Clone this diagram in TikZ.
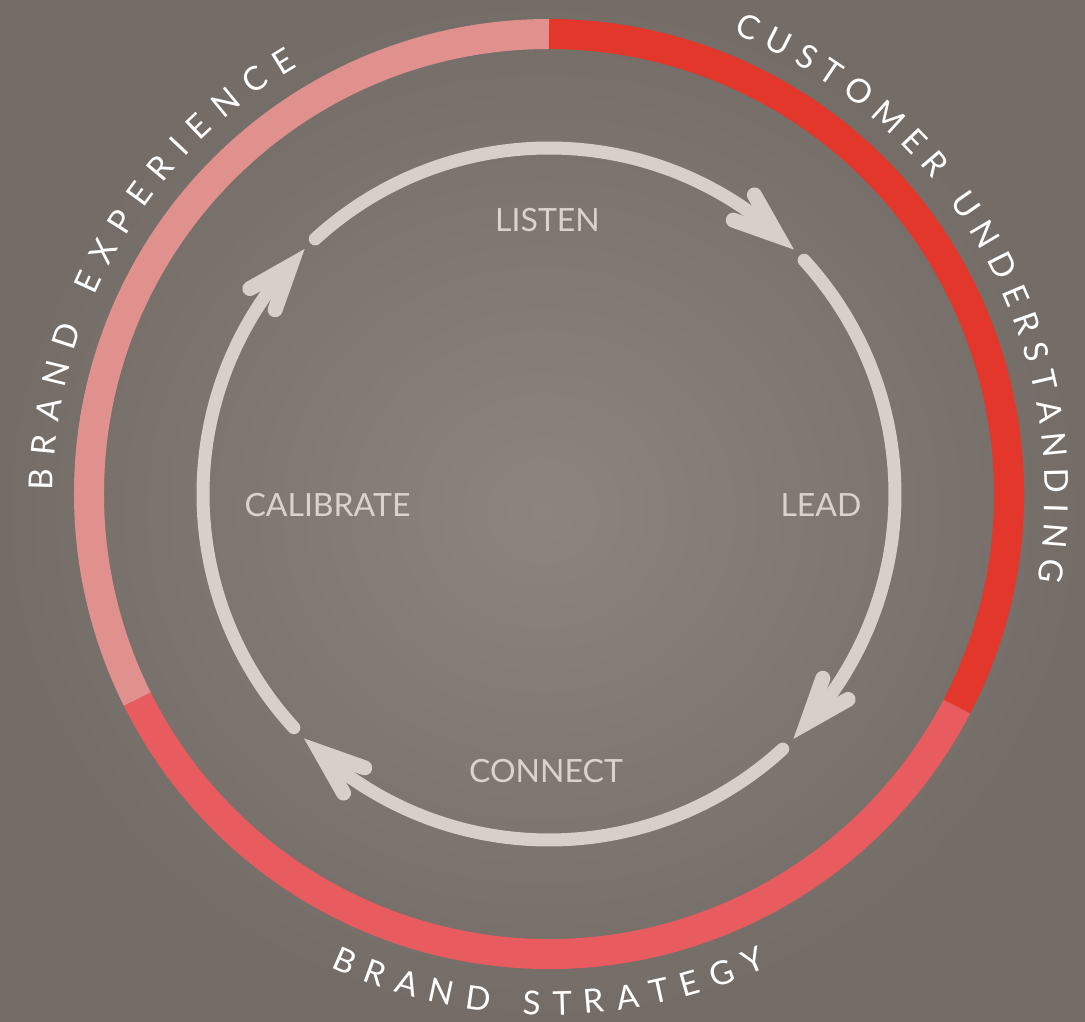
\documentclass[tikz,border=0pt]{standalone}
\usepackage{fontspec}
\setmainfont{Lato}
\usetikzlibrary{calc}
\definecolor{bgin}{HTML}{8B847F}
\definecolor{bgout}{HTML}{746C67}
\definecolor{ringpink}{HTML}{E0918D}
\definecolor{ringred}{HTML}{E3372C}
\definecolor{ringcoral}{HTML}{E85B5F}
\definecolor{cyc}{HTML}{D6CFCA}
\definecolor{lbl}{HTML}{DAD2CD}
\newcommand\otfont{\fontsize{33}{40}\selectfont}
\newcommand\trk{12}
% width of one character at 33pt (measured at 10pt, scaled)
\newcommand\measurech[1]{\pgfmathsetmacro\cw{3.3*width("#1")}}
\newcommand\measurelist[1]{%
  \xdef\gtw{0}%
  \foreach \ch in {#1}{%
    \measurech{\ch}%
    \pgfmathsetmacro\tmpw{\gtw+\cw+\trk}%
    \xdef\gtw{\tmpw}%
  }}
% #1 list, #2 centre angle, #3 baseline radius, #4 direction, #5 rotation offset, #6 name prefix, #7 tracking
\newcommand\placelist[7]{%
  \renewcommand\trk{#7}%
  \measurelist{#1}%
  \xdef\gcum{0}%
  \foreach \ch [count=\i] in {#1}{%
    \measurech{\ch}%
    \pgfmathsetmacro\ang{#2 + #4*(\gcum + (\cw+\trk)/2 - \gtw/2)/#3*180/pi}%
    \node[outertxt, rotate=\ang+#5] (#6\i) at (\ang:#3) {\ch};
    \pgfmathsetmacro\tmpw{\gcum+\cw+\trk}%
    \xdef\gcum{\tmpw}%
  }}
\tikzset{
  ring/.style={line width=30pt, line cap=butt},
  cycline/.style={draw=cyc, line width=13pt, line cap=round},
  headline/.style={draw=cyc, line width=15pt, line cap=round, line join=miter},
  outertxt/.style={font=\otfont, text=white, anchor=base, inner sep=0pt},
  cyclabel/.style={font=\fontsize{32}{38}\selectfont, text=lbl, anchor=base, inner sep=0pt}
}
\begin{document}
\begin{tikzpicture}[x=1pt,y=1pt]
\useasboundingbox (-549,-528) rectangle (536,494);
\shade[inner color=bgin, outer color=bgout] (-549,-528) rectangle (536,494);
% outer ring
\draw[ring, ringpink] (90:460) arc[start angle=90, end angle=206.5, radius=460];
\draw[ring, ringcoral] (206.5:460) arc[start angle=206.5, end angle=332.5, radius=460];
\draw[ring, ringred] (-27.5:460) arc[start angle=-27.5, end angle=90, radius=460];
% outer texts
\placelist{B,R,A,N,D,~,E,X,P,E,R,I,E,N,C,E}{150}{496}{-1}{-90}{be}{13}
\placelist{C,U,S,T,O,M,E,R,~,U,N,D,E,R,S,T,A,N,D,I,N,G}{29}{496}{-1}{-90}{cu}{9.8}
\placelist{B,R,A,N,D,~,S,T,R,A,T,E,G,Y}{-90}{521}{1}{90}{bs}{12.6}
% cycle arrows
\foreach \s/\e [count=\k] in {132.5/45, 42.5/-45, -47.5/-135, -137.5/-225}{
  \coordinate (S\k) at (\s:346);
  \coordinate (T\k) at (\e:346);
  \draw[cycline] (S\k) arc[start angle=\s, end angle=\e+6, radius=346];
  \pgfmathsetmacro\ax{\e+95}
  \coordinate (V\k) at ($(T\k)+(\ax:21)$);
  \draw[headline] ($(V\k)+(\ax-20.5:47)$) -- (V\k) -- ($(V\k)+(\ax+20.5:47)$);
}
% labels
\node[cyclabel] (listen) at (-1.5,262) {LISTEN};
\node[cyclabel] (lead) at (272,-23) {LEAD};
\node[cyclabel] (connect) at (-3,-289) {CONNECT};
\node[cyclabel] (calibrate) at (-221.5,-23) {CALIBRATE};
\end{tikzpicture}
\end{document}
